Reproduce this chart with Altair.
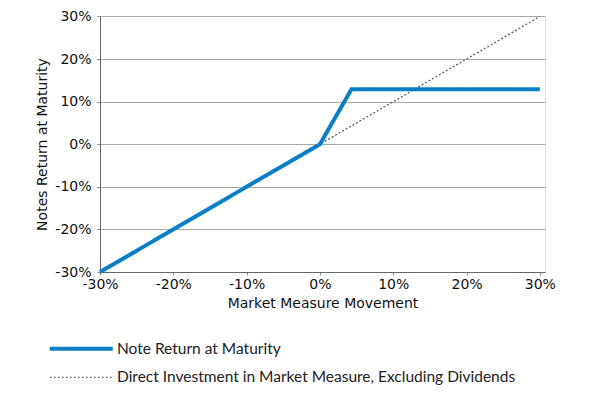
import altair as alt
import pandas as pd

series_names = ["Note Return at Maturity",
                "Direct Investment in Market Measure, Excluding Dividends"]
note_x = [-30, 0, 4.3, 30]
note_y = [-30, 0, 12.9, 12.9]
direct_x = [-30, 0, 30]
direct_y = [-30, 0, 30]
tick_values = [-30, -20, -10, 0, 10, 20, 30]

rows = []
for i, (xv, yv) in enumerate(zip(direct_x, direct_y)):
    rows.append({"x": xv, "y": yv, "series": series_names[1], "ord": i})
for i, (xv, yv) in enumerate(zip(note_x, note_y)):
    rows.append({"x": xv, "y": yv, "series": series_names[0], "ord": i})
df = pd.DataFrame(rows)

legend = alt.Legend(
    title=None, orient="none", legendX=-26.5, legendY=325,
    symbolType="M-8,0H8", symbolSize=62, labelOffset=28, labelLimit=0,
    labelFont="Lato", labelFontSize=15.5, labelColor="#222",
    rowPadding=11.5, padding=0, symbolFillColor="transparent",
)

axis_common = dict(
    values=tick_values, labelExpr="datum.value + '%'", labelFlush=False,
    labelFont="DejaVu Sans", labelFontSize=14, labelColor="#111",
    titleFont="DejaVu Sans", titleFontSize=14, titleFontWeight="normal",
    titleColor="#111", domainColor="#666", tickColor="#888", tickSize=3,
)

chart = alt.Chart(df).mark_line(strokeCap="butt").encode(
    x=alt.X("x:Q", scale=alt.Scale(domain=[-30, 30.7], nice=False, zero=False),
            axis=alt.Axis(title="Market Measure Movement", grid=False,
                          labelPadding=2, titlePadding=5, **axis_common)),
    y=alt.Y("y:Q", scale=alt.Scale(domain=[-30, 30.1], nice=False, zero=False),
            axis=alt.Axis(title="Notes Return at Maturity", grid=True,
                          gridColor="#a8a8a8", labelPadding=6, titlePadding=5,
                          **axis_common)),
    color=alt.Color("series:N",
                    scale=alt.Scale(domain=series_names, range=["#0a7fc8", "#555555"]),
                    legend=legend),
    strokeDash=alt.StrokeDash("series:N",
                              scale=alt.Scale(domain=series_names, range=[[1, 0], [2, 2]]),
                              legend=legend),
    strokeWidth=alt.StrokeWidth("series:N",
                                scale=alt.Scale(domain=series_names, range=[4, 1.2]),
                                legend=legend),
    order="ord:Q",
).properties(
    width=445, height=256,
    autosize=alt.AutoSizeParams(type="none"),
    padding={"left": 92, "top": 8, "right": 54, "bottom": 115},
).configure_view(
    fill="#e8e8e8", stroke="#888888", strokeWidth=1,
).configure(background="white")

chart.save("out.html", embed_options={"renderer": "svg", "actions": False})
